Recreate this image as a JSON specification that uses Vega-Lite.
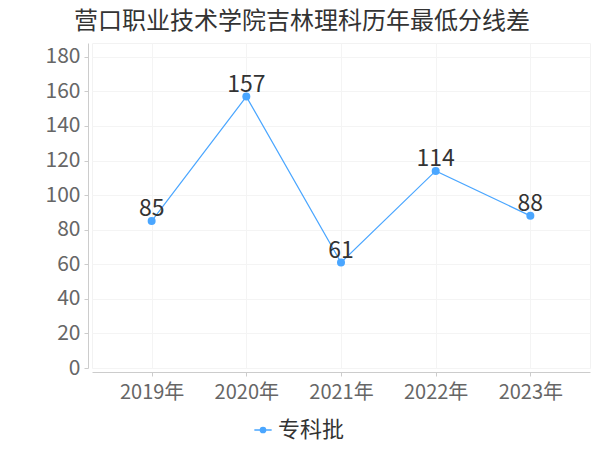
{
  "$schema": "https://vega.github.io/schema/vega-lite/v6.json",
  "autosize": {"type": "none"},
  "width": 498,
  "height": 325,
  "padding": {"left": 92, "top": 43, "right": 10, "bottom": 82},
  "background": "white",
  "config": {
    "font": "Noto Sans CJK SC",
    "view": {"stroke": "#f2f2f2"}
  },
  "title": {
    "text": "营口职业技术学院吉林理科历年最低分线差",
    "fontSize": 24,
    "fontWeight": "normal",
    "color": "#333333",
    "anchor": "middle",
    "dx": -39,
    "offset": 9
  },
  "data": {
    "values": [
      {"year": "2019年", "score": 85, "batch": "专科批"},
      {"year": "2020年", "score": 157, "batch": "专科批"},
      {"year": "2021年", "score": 61, "batch": "专科批"},
      {"year": "2022年", "score": 114, "batch": "专科批"},
      {"year": "2023年", "score": 88, "batch": "专科批"}
    ]
  },
  "encoding": {
    "x": {
      "field": "year", "type": "ordinal", "sort": null,
      "scale": {"type": "point", "padding": 0.63},
      "axis": {
        "title": null, "labelAngle": 0, "labelFontSize": 20, "labelColor": "#666666",
        "labelPadding": 6, "domainColor": "#cccccc", "tickColor": "#cccccc", "tickSize": 4,
        "offset": 4, "grid": true, "gridColor": "#f4f4f4"
      }
    },
    "y": {
      "field": "score", "type": "quantitative",
      "scale": {"domain": [0, 188], "nice": false},
      "axis": {
        "title": null, "values": [0, 20, 40, 60, 80, 100, 120, 140, 160, 180],
        "labelFontSize": 21, "labelColor": "#666666", "labelPadding": 4,
        "domainColor": "#cccccc", "tickColor": "#cccccc", "tickSize": 4,
        "offset": 4, "gridColor": "#f4f4f4"
      }
    }
  },
  "layer": [
    {
      "mark": {"type": "line", "strokeWidth": 1.2, "point": {"size": 64, "filled": true, "opacity": 1}},
      "encoding": {
        "color": {
          "field": "batch", "type": "nominal",
          "scale": {"range": ["#4aa6ff"]},
          "legend": {
            "title": null, "orient": "none", "legendX": 160, "legendY": 376,
            "labelFontSize": 22, "labelColor": "#333333",
            "symbolType": "M-1,0H1M0.3,0A0.3,0.3 0 1,1 -0.3,0A0.3,0.3 0 1,1 0.3,0",
            "symbolSize": 300, "symbolStrokeWidth": 1.5, "labelOffset": 4
          }
        }
      }
    },
    {
      "mark": {"type": "text", "fontSize": 23, "color": "#333333", "baseline": "alphabetic", "dy": -5},
      "encoding": {"text": {"field": "score", "type": "quantitative"}}
    }
  ]
}
